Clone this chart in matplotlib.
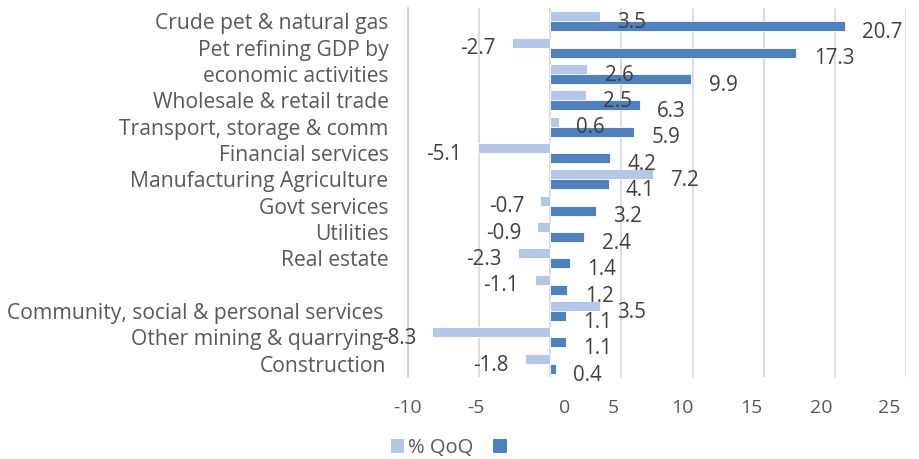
import matplotlib
matplotlib.use("Agg")
import matplotlib.pyplot as plt
import matplotlib.transforms as mtransforms
from matplotlib.patches import Patch
import numpy as np

plt.rcParams['font.family'] = ['Open Sans', 'DejaVu Sans']

categories = [
    "Crude pet & natural gas",
    "Pet refining GDP by",
    "economic activities",
    "Wholesale & retail trade",
    "Transport, storage & comm",
    "Financial services",
    "Manufacturing Agriculture",
    "Govt services",
    "Utilities",
    "Real estate",
    "",
    "Community, social & personal services",
    "Other mining & quarrying",
    "Construction",
]
qoq = [3.5, -2.7, 2.6, 2.5, 0.6, -5.1, 7.2, -0.7, -0.9, -2.3, -1.1, 3.5, -8.3, -1.8]
other = [20.7, 17.3, 9.9, 6.3, 5.9, 4.2, 4.1, 3.2, 2.4, 1.4, 1.2, 1.1, 1.1, 0.4]
series_names = ["% QoQ", ""]
x_ticks = [-10, -5, 0, 5, 10, 15, 20, 25]

LIGHT = "#B4C7E7"
DARK = "#4F81BD"
GRID = "#D9D9D9"
AXTXT = "#595959"
LBLTXT = "#404040"

fig = plt.figure(figsize=(9.2, 4.59), dpi=100)
ax = fig.add_axes([408/920, 1 - 377/459, (906 - 408)/920, (377 - 8)/459])

y = np.arange(len(categories))
h = 0.38
ax.barh(y - h/2, qoq, height=h, color=LIGHT, edgecolor="white", linewidth=0.6, zorder=3)
ax.barh(y + h/2, other, height=h, color=DARK, edgecolor="white", linewidth=0.6, zorder=3)

ax.set_xlim(-10, 25)
ax.set_ylim(len(categories) - 0.5, -0.5)

ax.set_xticks(x_ticks)
ax.set_xticklabels([str(t) for t in x_ticks])
ax.set_yticks(y)
ax.set_yticklabels(categories)
ax.tick_params(axis='y', length=0, pad=14, labelsize=15.2, labelcolor=AXTXT)
ax.tick_params(axis='x', length=0, pad=16, labelsize=14, labelcolor=AXTXT)

# slight horizontal shifts of tick labels as in reference (pixels)
xshifts = [0, -3, 14, -8, -10, -12, -14, -17]
for lab, dx in zip(ax.get_xticklabels(), xshifts):
    lab.set_transform(lab.get_transform() + mtransforms.ScaledTranslation(dx/100, 0, fig.dpi_scale_trans))
yshifts = [0]*11 + [-5, -5, -2]
for lab, dx in zip(ax.get_yticklabels(), yshifts):
    lab.set_transform(lab.get_transform() + mtransforms.ScaledTranslation(dx/100, 0, fig.dpi_scale_trans))

ax.grid(axis='x', color=GRID, linewidth=1.3, zorder=0)
ax.grid(axis='y', visible=False)
for s in ['top', 'right', 'bottom']:
    ax.spines[s].set_visible(False)
ax.spines['left'].set_color("#CFCFCF")
ax.spines['left'].set_linewidth(1.3)
ax.spines['left'].set_zorder(4)

def label(vals, offset):
    for i, v in enumerate(vals):
        if v >= 0:
            ax.annotate(f"{v:.1f}", xy=(v, i + offset), xytext=(12.5, -4.5),
                        textcoords='offset points', ha='left', va='center',
                        fontsize=14.8, color=LBLTXT, zorder=5)
        else:
            ax.annotate(f"{v:.1f}", xy=(v, i + offset), xytext=(-11.5, -4.5),
                        textcoords='offset points', ha='right', va='center',
                        fontsize=14.8, color=LBLTXT, zorder=5)

label(qoq, -h/2)
label(other, h/2)

handles = [Patch(facecolor=LIGHT, edgecolor='none'), Patch(facecolor=DARK, edgecolor='none')]
fig.legend(handles, series_names, loc='center', bbox_to_anchor=(0.49, 0.024), ncol=2,
           frameon=False, fontsize=14.5, labelcolor=AXTXT, handlelength=0.65, handleheight=0.65,
           handletextpad=0.2, columnspacing=1.0)

fig.savefig("out.png", dpi=100)
